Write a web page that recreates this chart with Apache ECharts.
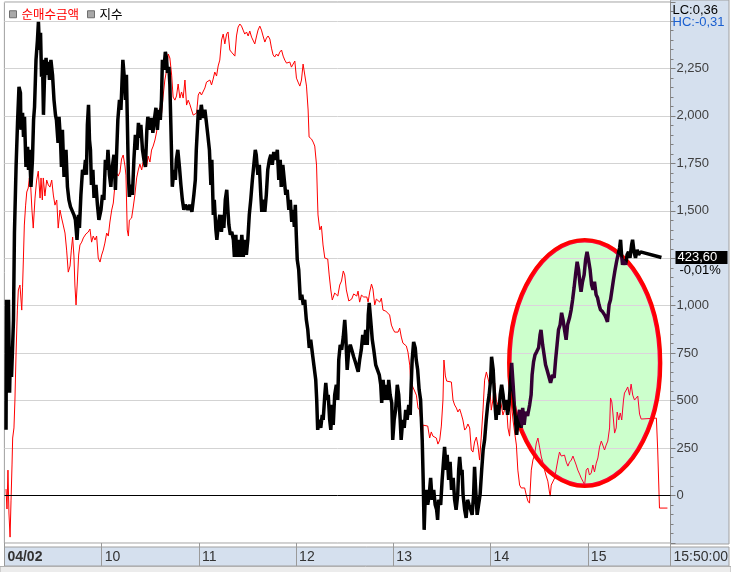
<!DOCTYPE html>
<html><head><meta charset="utf-8">
<script src="https://cdn.jsdelivr.net/npm/echarts@6/dist/echarts.min.js"></script>
<style>html,body{margin:0;padding:0;background:#fff}#c{width:731px;height:572px}</style>
</head><body><div id="c"></div>
<script>
const seriesNames = ['순매수금액', '지수'];
// [minutes since 09:00, net buying amount]
const netBuy = [[1.0,34],[1.6,-71],[2.2,134],[2.8,-92],[3.5,-219],[4.1,-24],[4.7,161],[5.1,303],[5.9,356],[6.5,503],[7.2,751],[8.0,977],[8.6,1083],[9.6,1109],[10.7,977],[11.2,1098],[11.7,1241],[12.3,1425],[13.1,1530],[13.8,1599],[14.7,1620],[15.4,1673],[16.2,1636],[17.0,1504],[17.8,1409],[18.9,1567],[19.9,1662],[20.9,1709],[22.0,1567],[22.6,1673],[23.4,1557],[24.0,1673],[25.0,1578],[26.1,1662],[27.1,1636],[28.1,1625],[29.2,1662],[30.2,1583],[31.2,1530],[32.3,1557],[33.2,1409],[34.3,1504],[35.3,1462],[36.3,1425],[37.4,1383],[38.4,1293],[39.4,1177],[40.5,1209],[41.3,1293],[42.1,1362],[42.9,1262],[43.5,1109],[44.2,1004],[45.0,1125],[45.8,1267],[46.6,1320],[47.7,1335],[48.7,1357],[50.3,1378],[51.7,1388],[52.8,1404],[53.8,1335],[54.8,1367],[55.9,1346],[56.9,1367],[57.9,1251],[59.0,1230],[60.0,1267],[61.0,1293],[62.0,1330],[63.1,1383],[64.1,1367],[65.1,1441],[66.2,1504],[67.2,1541],[68.2,1636],[69.2,1699],[70.2,1683],[71.3,1704],[72.3,1773],[73.3,1794],[74.4,1736],[75.0,1688],[75.8,1399],[76.5,1367],[77.1,1451],[78.5,1462],[79.5,1520],[80.5,1583],[81.6,1673],[82.6,1715],[83.6,1746],[84.7,1715],[85.6,1757],[87.7,1731],[88.7,1788],[89.8,1757],[90.8,1820],[91.8,1841],[92.9,1873],[93.9,1915],[94.9,1978],[95.9,2041],[97.0,2015],[98.0,2110],[99.0,2189],[100.1,2242],[101.1,2326],[102.1,2305],[103.2,2215],[104.1,2099],[105.2,2083],[106.2,2105],[107.2,2168],[108.3,2094],[109.3,2126],[110.3,2094],[111.4,2189],[112.4,2057],[113.4,2083],[114.4,2062],[115.5,2031],[116.5,2004],[117.5,1994],[118.6,2015],[119.6,2110],[120.6,2126],[121.6,2110],[122.6,2120],[123.7,2147],[124.7,2178],[125.7,2173],[126.8,2189],[127.8,2163],[128.8,2194],[129.8,2231],[130.9,2210],[131.9,2263],[132.9,2294],[134.0,2400],[135.0,2431],[136.0,2379],[137.1,2431],[138.0,2442],[139.1,2347],[140.1,2336],[141.1,2326],[142.2,2315],[143.2,2421],[144.2,2468],[145.3,2484],[146.3,2473],[147.3,2452],[148.3,2431],[149.4,2442],[150.4,2421],[151.4,2447],[152.5,2415],[153.5,2405],[154.5,2379],[155.6,2421],[156.5,2452],[157.6,2473],[158.6,2452],[159.6,2421],[160.7,2389],[161.7,2410],[162.7,2421],[163.8,2405],[164.8,2357],[165.8,2321],[166.8,2310],[167.9,2326],[168.9,2315],[169.9,2336],[171.0,2347],[172.0,2315],[173.0,2294],[174.1,2278],[175.0,2268],[176.1,2284],[177.1,2257],[178.1,2247],[179.2,2289],[180.2,2199],[181.2,2178],[182.3,2157],[183.3,2189],[184.3,2273],[185.3,2278],[186.4,2157],[187.4,2031],[188.0,1889],[189.5,1878],[190.5,1862],[191.5,1841],[192.6,1741],[193.2,1557],[193.5,1478],[194.6,1399],[195.6,1420],[196.6,1320],[197.7,1251],[199.5,1246],[200.4,1162],[201.4,1083],[202.3,1030],[203.8,1067],[205.7,1051],[206.9,1109],[208.0,1130],[209.1,1183],[210.0,1162],[211.0,1083],[212.5,1025],[214.3,1035],[215.5,1062],[217.4,1051],[218.2,1077],[219.2,1019],[220.3,1056],[221.7,1046],[223.6,1046],[224.4,1019],[225.4,1072],[226.5,1114],[227.4,1088],[228.5,1004],[229.5,1035],[230.5,1040],[231.6,1019],[232.6,1040],[233.6,977],[235.3,972],[236.5,972],[237.7,951],[238.8,898],[239.8,877],[240.8,861],[241.9,851],[242.9,861],[243.9,882],[244.9,835],[245.9,803],[247.0,798],[248.0,788],[249.0,756],[250.1,687],[250.7,598],[251.9,608],[254.2,529],[255.2,461],[256.2,450],[257.3,371],[257.9,277],[258.3,371],[259.3,377],[261.2,366],[262.4,303],[263.4,335],[264.4,313],[265.5,319],[266.5,303],[267.5,271],[268.6,292],[269.6,366],[270.6,503],[271.2,714],[272.1,630],[272.9,603],[275.8,598],[276.8,503],[277.8,477],[278.9,461],[279.8,440],[280.9,456],[281.9,429],[282.9,398],[284.0,345],[285.0,356],[286.0,377],[287.1,356],[288.1,240],[289.1,229],[290.1,282],[291.2,308],[292.2,261],[293.2,187],[294.3,319],[295.3,450],[296.3,608],[297.4,651],[298.3,661],[299.4,582],[300.4,450],[301.4,503],[302.5,593],[303.5,503],[304.5,477],[305.6,514],[306.6,477],[307.6,424],[308.6,450],[309.7,493],[310.7,356],[311.7,313],[312.8,493],[313.8,398],[314.8,335],[315.9,266],[316.8,134],[317.9,55],[318.9,40],[321.0,40],[322.0,3],[323.0,-29],[324.0,-40],[325.1,134],[326.1,187],[327.1,213],[328.2,277],[329.2,303],[330.2,255],[331.3,203],[332.2,176],[333.3,134],[334.3,103],[335.3,76],[336.4,13],[336.8,-3],[337.4,55],[338.4,45],[339.5,92],[340.5,97],[341.5,187],[342.5,229],[343.6,208],[344.6,208],[345.6,213],[346.7,176],[347.7,155],[348.7,176],[349.8,187],[350.8,208],[351.8,203],[352.8,161],[353.8,134],[354.9,113],[355.9,92],[356.9,76],[358.0,55],[359.0,134],[360.0,145],[361.0,108],[362.1,119],[363.1,161],[364.1,124],[365.2,171],[366.2,198],[367.2,255],[368.3,287],[369.2,266],[370.3,240],[371.3,266],[372.3,287],[373.4,356],[374.0,514],[374.8,493],[375.4,440],[376.5,329],[377.5,356],[378.1,440],[379.1,398],[380.0,435],[380.9,398],[382.0,503],[382.6,540],[383.7,556],[384.6,572],[385.7,529],[386.7,587],[387.7,529],[388.8,503],[389.8,493],[390.8,524],[391.9,429],[392.9,403],[393.7,408],[402.3,408],[403.1,240],[403.8,45],[404.2,-66],[409.1,-66]];
// [minutes since 09:00, index level]
const indexLine = [[1.0,418.43],[1.3,422.33],[1.9,421.73],[2.5,422.33],[3.2,419.54],[3.8,420.92],[4.4,420.02],[5.0,420.83],[5.6,421.73],[6.2,424.34],[7.2,426.32],[8.1,427.64],[9.0,428.72],[9.9,428.54],[10.2,427.43],[11.2,427.94],[11.8,427.22],[12.4,427.82],[13.3,426.32],[14.3,426.92],[14.9,426.23],[15.5,426.83],[16.4,425.72],[17.3,426.53],[18.0,427.73],[18.6,428.12],[19.5,429.53],[20.4,430.13],[21.0,430.67],[21.7,429.83],[22.3,430.34],[22.9,429.02],[23.5,429.53],[24.1,427.88],[24.7,428.93],[25.7,429.59],[26.3,429.08],[27.2,429.47],[27.8,428.93],[28.7,429.53],[29.7,429.08],[30.6,428.33],[31.5,427.88],[32.1,427.73],[33.1,427.04],[33.7,427.82],[34.6,427.13],[35.2,426.32],[35.8,427.43],[36.8,426.02],[38.0,426.83],[38.9,425.72],[39.8,425.33],[40.8,425.12],[41.7,425.18],[42.9,424.88],[43.8,424.73],[44.8,424.13],[45.7,424.88],[46.3,424.49],[47.2,425.48],[48.2,426.23],[49.1,426.08],[50.0,426.53],[50.6,426.08],[51.2,427.58],[51.9,428.18],[52.5,427.13],[53.1,426.83],[53.7,425.78],[54.6,426.23],[55.3,425.39],[56.5,425.78],[57.4,425.18],[58.3,424.73],[59.6,425.03],[60.5,425.48],[61.4,425.33],[62.3,426.53],[63.3,426.23],[63.9,426.83],[64.8,426.08],[65.7,425.72],[66.3,426.23],[67.6,426.68],[68.5,425.63],[69.1,426.53],[70.0,427.73],[71.0,428.33],[71.9,428.03],[72.5,428.78],[73.1,429.53],[74.1,428.93],[74.7,428.33],[75.3,429.08],[75.9,427.58],[76.5,426.08],[77.1,425.42],[78.1,425.78],[79.0,425.48],[79.9,426.53],[80.8,427.28],[81.8,426.83],[82.7,427.64],[83.6,427.19],[84.2,427.58],[85.2,426.83],[86.1,426.53],[87.0,426.32],[87.9,427.43],[88.5,427.82],[89.8,427.43],[90.7,427.79],[91.6,427.34],[92.5,427.73],[93.5,428.09],[94.4,427.43],[95.3,428.03],[96.2,427.73],[96.9,428.33],[97.5,429.53],[98.4,429.23],[99.3,429.77],[100.0,429.59],[100.6,429.14],[101.5,429.32],[102.1,428.78],[102.7,427.58],[103.6,425.72],[104.6,426.23],[105.5,425.93],[106.1,426.53],[107.0,426.83],[108.0,426.32],[108.9,425.78],[109.8,425.33],[110.7,425.03],[111.7,425.18],[113.2,425.03],[114.4,425.18],[115.7,424.97],[116.9,425.48],[117.8,425.93],[118.4,426.83],[119.7,428.03],[120.6,427.73],[121.5,428.18],[122.5,427.79],[123.7,428.03],[124.6,427.67],[125.5,427.28],[126.5,426.83],[127.4,425.78],[128.0,426.53],[128.9,424.88],[129.5,425.33],[130.5,424.43],[131.1,424.13],[132.0,424.58],[132.9,424.88],[133.9,424.37],[134.8,424.88],[135.4,424.49],[136.3,425.33],[137.2,425.63],[137.9,425.03],[138.5,424.58],[139.4,424.28],[140.3,424.37],[141.3,424.13],[141.9,423.62],[142.8,424.28],[143.4,423.62],[144.6,424.13],[145.5,423.62],[146.5,424.28],[147.4,423.62],[148.3,424.13],[149.3,423.68],[150.2,424.13],[151.1,424.88],[152.0,425.33],[153.0,425.93],[153.9,426.38],[154.8,426.83],[155.4,426.68],[156.4,426.08],[157.3,426.38],[158.2,425.48],[158.8,424.97],[159.8,425.33],[160.7,424.97],[161.6,425.48],[162.5,426.23],[163.5,426.53],[164.4,426.68],[165.3,426.38],[166.2,426.77],[167.5,426.53],[168.4,426.83],[169.3,425.93],[170.2,426.53],[170.8,425.72],[171.8,426.38],[172.7,425.93],[173.6,425.48],[174.5,425.63],[175.5,425.03],[176.4,425.33],[177.3,424.67],[178.2,425.03],[178.9,424.52],[179.5,425.18],[180.1,424.28],[180.7,423.53],[181.6,423.23],[182.6,422.33],[183.5,422.48],[184.4,422.18],[185.3,422.33],[186.3,421.73],[187.2,421.43],[188.1,420.89],[189.0,421.13],[190.3,420.62],[191.5,420.68],[192.1,419.93],[192.7,419.33],[193.3,418.43],[194.3,418.73],[195.2,418.49],[196.1,418.88],[196.7,418.73],[197.7,419.48],[198.3,419.84],[199.2,419.33],[199.8,419.48],[200.7,418.73],[201.4,418.43],[202.3,419.18],[202.9,418.58],[203.8,419.48],[204.8,419.78],[205.7,419.33],[206.3,420.53],[207.2,420.98],[208.1,420.83],[209.1,421.22],[210.0,421.73],[210.6,421.28],[211.5,420.23],[212.5,420.83],[213.4,420.98],[214.3,420.83],[215.5,420.62],[216.5,420.47],[217.4,420.53],[218.3,420.17],[219.2,420.53],[220.2,420.83],[221.1,421.28],[222.0,420.98],[222.9,421.43],[223.9,420.98],[224.5,421.88],[225.1,422.24],[226.0,421.73],[227.0,421.13],[227.9,420.83],[229.1,420.38],[230.3,420.38],[231.3,420.08],[232.2,419.78],[232.8,419.24],[233.7,419.93],[234.7,419.33],[235.6,419.78],[236.5,419.33],[237.1,419.93],[238.0,419.48],[239.0,419.24],[239.6,418.13],[240.5,418.73],[241.4,419.03],[242.4,419.78],[243.3,419.48],[244.2,418.73],[244.8,418.13],[245.8,418.73],[246.7,418.49],[247.6,419.03],[248.5,418.73],[249.5,419.18],[250.4,418.88],[251.0,419.78],[251.6,420.53],[252.5,421.07],[253.5,420.89],[254.1,420.53],[255.0,420.23],[255.9,419.63],[256.8,419.33],[257.8,418.13],[258.4,416.93],[259.0,415.43],[259.6,416.33],[260.2,416.63],[261.2,416.18],[262.1,416.48],[263.0,416.99],[263.9,416.33],[264.9,416.63],[265.8,416.18],[266.7,416.03],[267.3,415.73],[267.9,416.33],[269.2,416.18],[270.1,416.93],[271.0,417.53],[271.6,417.92],[272.6,417.23],[273.2,417.68],[274.1,416.93],[275.0,417.47],[275.9,416.63],[276.9,416.99],[277.8,416.33],[278.7,416.03],[279.7,416.48],[280.3,417.23],[280.9,417.62],[281.8,417.08],[282.4,417.23],[283.0,416.48],[284.0,416.03],[284.9,415.79],[285.8,416.33],[286.7,416.18],[287.7,416.03],[288.6,415.88],[289.5,416.48],[290.1,417.32],[290.8,416.63],[291.7,415.88],[292.6,416.18],[293.5,416.48],[294.5,417.23],[295.4,417.83],[296.3,418.13],[297.3,418.73],[298.2,419.18],[299.1,419.48],[300.0,419.93],[300.6,420.62],[301.6,420.23],[302.5,419.33],[303.4,418.73],[304.0,419.18],[305.0,418.88],[305.9,419.48],[306.8,419.78],[307.7,419.48],[308.6,419.03],[309.6,419.33],[310.5,418.88],[311.4,419.18],[312.3,419.93],[313.0,420.44],[313.9,419.78],[314.8,419.03],[316.1,418.28],[317.0,418.73],[317.9,419.03],[318.9,418.49],[319.8,419.09],[320.7,418.58],[321.6,418.97],[322.8,418.85],[324.1,419.18],[325.0,419.48],[325.6,420.08],[326.5,420.47],[327.4,420.68],[328.4,420.77],[329.6,420.89],[330.5,421.28],[331.1,421.43],[332.1,420.98],[333.0,420.68],[333.9,420.38],[334.8,420.23],[335.8,420.29],[337.0,419.84],[338.2,420.08],[339.2,419.99],[340.1,420.53],[341.0,420.98],[341.9,421.43],[342.9,421.58],[343.8,421.94],[344.7,421.73],[345.6,421.43],[346.6,421.13],[347.5,421.58],[348.7,421.79],[349.7,422.03],[350.6,422.33],[351.5,422.69],[352.4,423.08],[353.4,423.47],[354.3,423.23],[355.2,422.78],[355.8,422.57],[356.7,422.87],[357.7,423.08],[358.6,423.53],[359.5,423.77],[360.4,423.53],[361.4,423.23],[362.3,422.78],[363.2,422.63],[364.1,422.87],[365.1,422.48],[366.0,422.39],[366.9,422.18],[367.8,422.03],[369.1,421.97],[370.3,421.88],[371.2,421.79],[372.1,421.67],[373.1,422.18],[374.0,422.33],[374.9,422.63],[375.8,422.93],[376.8,423.23],[377.7,423.47],[378.6,423.68],[379.6,423.89],[380.2,424.13],[380.8,423.68],[381.4,423.38],[382.3,423.53],[383.3,423.38],[384.2,423.68],[385.1,423.77],[386.0,423.59],[387.0,423.98],[387.6,424.13],[388.5,423.77],[389.4,423.59],[390.4,423.83],[391.3,423.68],[392.5,423.77],[393.7,423.83],[405.4,423.60]];
const xTickValues = [0, 60, 120, 180, 240, 300, 360, 411];
const xTickLabels = ['04/02', '10', '11', '12', '13', '14', '15', '15:50:00'];
const lcText = 'LC:0,36';
const hcText = 'HC:-0,31';
const changeText = '-0,01%';
const highlight = { tStart: 310.3, tEnd: 405.8, vLow: 41, vHigh: 1355 };

const chart = echarts.init(document.getElementById('c'), null, { renderer: 'canvas' });
const thousands = v => String(v).replace(/\B(?=(\d{3})+(?!\d))/g, ',');
const PANEL = '#d5e0ee';

chart.setOption({
  animation: false,
  backgroundColor: '#ffffff',
  grid: { left: 4.4, top: 2, right: 60, bottom: 29, show: true, borderColor: '#a0a0a0', borderWidth: 1, backgroundColor: 'transparent' },
  legend: {
    left: 4, top: 3, itemWidth: 7, itemHeight: 7, itemGap: 8, icon: 'rect',
    selectedMode: false,
    textStyle: { fontSize: 12.5, fontFamily: '"Noto Sans CJK KR", sans-serif' },
    data: [
      { name: seriesNames[0], itemStyle: { color: '#a8a8a8', borderColor: '#6e6e6e', borderWidth: 1 }, textStyle: { color: '#ff0000' } },
      { name: seriesNames[1], itemStyle: { color: '#a8a8a8', borderColor: '#6e6e6e', borderWidth: 1 }, textStyle: { color: '#000000' } }
    ]
  },
  xAxis: {
    type: 'value', min: 0, max: 411, interval: 60,
    axisLine: { show: false, onZero: false },
    axisTick: { show: true, inside: false, length: 23, lineStyle: { color: '#9a9a9a' } },
    splitLine: { show: false },
    axisLabel: {
      show: true, align: 'left', margin: 7, padding: [0, 0, 0, 3],
      showMinLabel: true, showMaxLabel: true, hideOverlap: false,
      color: '#333', fontSize: 14, fontFamily: '"Liberation Sans", sans-serif',
      formatter: v => {
        const i = xTickValues.findIndex(t => Math.abs(t - v) < 0.5);
        if (i < 0) return '';
        return i === 0 ? '{b|' + xTickLabels[i] + '}' : xTickLabels[i];
      },
      rich: { b: { fontWeight: 'bold', fontSize: 14, color: '#333', fontFamily: '"Liberation Sans", sans-serif' } }
    }
  },
  yAxis: [
    {
      type: 'value', position: 'right', min: -250, max: 2600, interval: 250,
      axisLine: { show: true, onZero: false, lineStyle: { color: '#8c8c8c' } },
      axisTick: { show: true, inside: false, length: 5, lineStyle: { color: '#808080' } },
      minorTick: { show: true, splitNumber: 5, length: 3, lineStyle: { color: '#808080' } },
      splitLine: { show: true, lineStyle: { color: '#d3d3d3', width: 1 } },
      axisLabel: {
        margin: 6, color: '#404040', fontSize: 13, fontFamily: '"Liberation Sans", sans-serif',
        showMinLabel: false,
        formatter: v => (v < 0 || v > 2250) ? '' : thousands(v)
      }
    },
    { type: 'value', show: false, min: 415.035, max: 431.265 }
  ],
  series: [
    {
      name: seriesNames[0], type: 'line', yAxisIndex: 0, data: netBuy, symbol: 'none',
      lineStyle: { color: '#ff0000', width: 1 }, itemStyle: { color: '#ff0000' }, z: 2,
      markLine: { silent: true, symbol: 'none', label: { show: false }, lineStyle: { color: '#000', width: 1, type: 'solid' }, data: [{ yAxis: 0 }] }
    },
    {
      name: seriesNames[1], type: 'line', yAxisIndex: 1, data: indexLine, symbol: 'none',
      lineStyle: { color: '#000000', width: 3.5 }, itemStyle: { color: '#000' }, z: 3
    }
  ]
});

// decorations positioned through the chart's own scales
const px = t => chart.convertToPixel({ xAxisIndex: 0 }, t);
const pyR = v => chart.convertToPixel({ yAxisIndex: 0 }, v);
const pyI = v => chart.convertToPixel({ yAxisIndex: 1 }, v);
const gridRight = px(411), gridBottom = pyR(-250);
const lastVal = indexLine[indexLine.length - 1][1];
const yLast = pyI(lastVal);
const ex0 = px(highlight.tStart), ex1 = px(highlight.tEnd);
const ey0 = pyR(highlight.vHigh), ey1 = pyR(highlight.vLow);
const ecx = (ex0 + ex1) / 2, ecy = (ey0 + ey1) / 2, erx = (ex1 - ex0) / 2, ery = (ey1 - ey0) / 2;

chart.setOption({
  graphic: [
    { id: 'rpanel', type: 'rect', z: -10, silent: true, shape: { x: gridRight, y: 0, width: 731 - gridRight - 2, height: gridBottom + 1 }, style: { fill: PANEL, stroke: '#a0a0a0', lineWidth: 1 } },
    { id: 'band', type: 'rect', z: -10, silent: true, shape: { x: 4.5, y: gridBottom + 4, width: 724.5, height: 566 - gridBottom - 4 }, style: { fill: PANEL, stroke: '#a0a0a0', lineWidth: 1 } },
    { id: 'scroll', type: 'rect', z: -10, silent: true, shape: { x: 0, y: 566.5, width: 731, height: 6 }, style: { fill: '#ececec', stroke: '#b0b0b0', lineWidth: 1 } },
    { id: 'ellFill', type: 'ellipse', z: -5, silent: true, shape: { cx: ecx, cy: ecy, rx: erx, ry: ery }, style: { fill: '#bfffbf' } },
    { id: 'ellRing', type: 'ellipse', z: 1, silent: true, shape: { cx: ecx, cy: ecy, rx: erx - 2, ry: ery - 2 }, style: { fill: 'none', stroke: '#ff0000', lineWidth: 4.5 } },
    { id: 'ellTint', type: 'ellipse', z: 50, silent: true, shape: { cx: ecx, cy: ecy, rx: erx - 3, ry: ery - 3 }, style: { fill: '#330033', blend: 'screen' } },
    { id: 'lc', type: 'text', z: 20, silent: true, x: gridRight + 2, y: 4, style: { text: lcText, fill: '#000', font: '13px "Liberation Sans", sans-serif' } },
    { id: 'hc', type: 'text', z: 20, silent: true, x: gridRight + 2, y: 16, style: { text: hcText, fill: '#1a5fd0', font: '13px "Liberation Sans", sans-serif' } },
    { id: 'pbox', type: 'rect', z: 20, silent: true, shape: { x: gridRight + 5, y: yLast - 6.5, width: 52, height: 13 }, style: { fill: '#000' } },
    { id: 'ptext', type: 'text', z: 21, silent: true, x: gridRight + 7, y: yLast - 6.5, style: { text: lastVal.toFixed(2).replace('.', ','), fill: '#fff', font: '13px "Liberation Sans", sans-serif' } },
    { id: 'chg', type: 'text', z: 21, silent: true, x: gridRight + 9, y: yLast + 6, style: { text: changeText, fill: '#000', font: '13px "Liberation Sans", sans-serif' } }
  ]
});
</script>
</body></html>
